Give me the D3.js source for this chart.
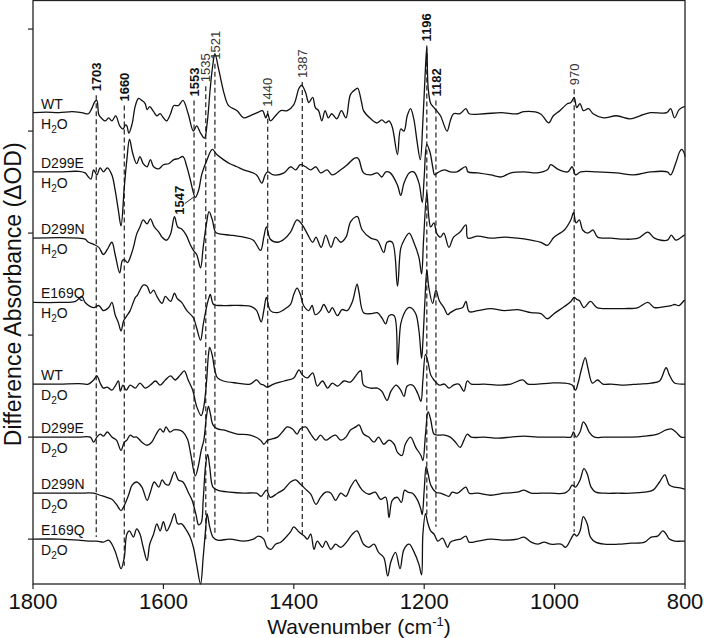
<!DOCTYPE html>
<html>
<head>
<meta charset="utf-8">
<script src="https://cdnjs.cloudflare.com/ajax/libs/d3/7.8.5/d3.min.js"></script>
<style>
body { margin: 0; background: #fff; }
text { font-family: "Liberation Sans", Arial, sans-serif; fill: #111; }
.frame { fill: none; stroke: #222; stroke-width: 1.3; }
.tick { stroke: #222; stroke-width: 1.2; }
.trace { fill: none; stroke: #111; stroke-width: 1.3; stroke-linejoin: round; }
.peakLine { stroke: #222; stroke-width: 1.2; stroke-dasharray: 5,3; }
</style>
</head>
<body>
<script>
//strain and solvent of each trace, top to bottom
var strains = ["WT", "D299E", "D299N", "E169Q", "WT", "D299E", "D299N", "E169Q"];
var solvents = ["H2O", "H2O", "H2O", "H2O", "D2O", "D2O", "D2O", "D2O"];
//vertical offset of each trace (same units as the spectra)
var offsets = [418, 360, 295, 232, 152, 100, 45, 0];

//spectra: [wavenumber, difference absorbance]
var wtH2O = [[1800,0],[1780,0.5],[1760,0],[1740,1],[1725,0],[1715,-1],[1710,4],[1705,11],[1702,12],[1699,-2],[1694,-6],[1689,-8],[1684,-5],[1679,-8],[1673,-3],[1667,-13],[1662,-16],[1658,-12],[1656,-13],[1653,-20],[1648,-11],[1643,7],[1638,14],[1633,12],[1628,9],[1625,3],[1621,6],[1615,1],[1610,-3],[1605,-1],[1600,-5],[1595,-8],[1589,-1],[1584,7],[1577,7],[1570,12],[1562,-1],[1554,-18],[1549,-13],[1543,-20],[1537,-25],[1533,-11],[1528,25],[1524,48],[1521,58],[1515,42],[1507,19],[1500,7],[1487,2],[1477,-5],[1467,-3],[1456,0],[1448,2],[1443,-5],[1440,-1],[1436,-8],[1428,-3],[1420,2],[1410,2],[1400,8],[1392,24],[1388,27],[1382,20],[1377,10],[1371,15],[1367,5],[1362,2],[1357,-8],[1352,2],[1347,-5],[1342,-1],[1334,-6],[1327,2],[1320,-5],[1313,18],[1305,23],[1302,24],[1296,10],[1293,2],[1282,-6],[1272,-10],[1265,-7],[1259,-10],[1254,-8],[1249,-14],[1241,-41],[1236,-16],[1231,-18],[1226,-3],[1221,4],[1216,-6],[1211,-28],[1206,-46],[1202,-8],[1198,45],[1196,64],[1194,25],[1190,9],[1185,5],[1181,2],[1175,-3],[1165,-18],[1160,-8],[1155,-1],[1145,-1],[1136,4],[1131,-1],[1108,-1],[1082,0],[1057,-1],[1047,1],[1022,-1],[1009,-10],[1002,-3],[992,2],[980,9],[975,10],[970,15],[966,5],[961,9],[956,2],[948,4],[941,-1],[925,-5],[905,-3],[884,-6],[869,-3],[853,0],[828,0],[822,4],[816,-5],[809,3],[801,6],[800,6]];
var d299eH2O = [[1800,0],[1760,0],[1730,0.5],[1720,-1],[1715,-5],[1711,-7],[1707,2],[1702,-3],[1697,4],[1692,0],[1686,4],[1679,-3],[1674,-18],[1669,-38],[1665,-53],[1660,-15],[1656,12],[1652,32],[1647,18],[1641,8],[1636,15],[1631,8],[1625,5],[1620,12],[1615,5],[1607,3],[1600,7],[1592,8],[1584,12],[1577,13],[1570,15],[1564,5],[1559,-7],[1551,-25],[1546,-18],[1541,-2],[1533,12],[1525,22],[1518,17],[1508,12],[1498,8],[1487,5],[1477,2],[1467,0],[1457,-3],[1449,-11],[1444,-3],[1440,0],[1431,-3],[1415,-1],[1405,5],[1397,2],[1390,7],[1382,5],[1374,2],[1366,5],[1359,-1],[1349,2],[1341,-3],[1328,2],[1318,7],[1308,13],[1303,14],[1300,12],[1293,-1],[1282,-3],[1272,-1],[1265,-5],[1259,0],[1252,-1],[1241,-13],[1236,-23],[1231,-11],[1223,-1],[1216,0],[1208,-11],[1203,-30],[1200,-5],[1196,27],[1191,19],[1187,5],[1184,-3],[1180,-1],[1169,2],[1160,0],[1150,0],[1136,5],[1133,0],[1118,-1],[1098,-3],[1082,-5],[1067,-1],[1047,0],[1027,-1],[1011,2],[1006,7],[996,3],[980,0],[973,5],[968,-3],[960,0],[935,0],[905,-1],[879,-3],[853,0],[827,0],[822,-3],[814,9],[808,20],[805,22],[801,18],[800,15]];
var d299nH2O = [[1800,0],[1760,0.5],[1730,0],[1720,-1],[1715,-4],[1707,-6],[1699,-9],[1692,-16],[1686,-11],[1679,-4],[1674,-16],[1667,-34],[1663,-22],[1660,-21],[1655,-24],[1651,-19],[1646,-9],[1641,4],[1636,11],[1631,18],[1625,14],[1620,19],[1614,11],[1607,6],[1602,1],[1595,-2],[1589,4],[1583,21],[1578,11],[1572,9],[1565,3],[1559,-6],[1554,-12],[1549,-16],[1543,-29],[1539,-9],[1534,14],[1530,26],[1525,18],[1520,6],[1512,4],[1498,3],[1477,1],[1462,-2],[1451,-12],[1446,1],[1442,11],[1436,-1],[1425,-4],[1415,-1],[1405,6],[1395,18],[1387,13],[1379,4],[1371,-4],[1366,1],[1358,-9],[1351,3],[1343,-9],[1336,1],[1328,-4],[1320,1],[1313,16],[1305,21],[1302,21],[1295,8],[1282,0],[1272,-2],[1262,-14],[1257,-4],[1249,-4],[1241,-47],[1236,-10],[1231,-2],[1223,5],[1216,-4],[1208,-19],[1204,-35],[1201,-2],[1196,45],[1193,21],[1190,11],[1185,15],[1181,5],[1175,1],[1170,5],[1162,-9],[1155,1],[1145,6],[1136,13],[1133,0],[1118,2],[1098,0],[1077,1],[1057,0],[1036,-2],[1021,-4],[1011,-7],[1001,1],[985,8],[975,18],[971,25],[967,15],[962,18],[957,8],[949,5],[941,8],[934,1],[913,0],[893,-1],[872,0],[857,6],[847,0],[827,-2],[821,3],[814,-2],[801,3],[800,3]];
var e169qH2O = [[1800,0],[1760,0],[1735,1],[1725,6],[1720,0],[1707,-5],[1699,-3],[1692,-8],[1684,-5],[1679,0],[1674,-12],[1669,-20],[1665,-28],[1661,-18],[1656,-13],[1651,-8],[1643,5],[1640,7],[1636,12],[1631,17],[1625,16],[1620,9],[1615,12],[1610,6],[1602,-1],[1597,6],[1589,1],[1583,9],[1579,4],[1572,0],[1564,-8],[1554,-15],[1549,-25],[1543,-37],[1539,-22],[1534,-5],[1530,5],[1528,8],[1523,-2],[1512,-3],[1498,-3],[1480,-3],[1465,-4],[1457,-8],[1450,-19],[1446,-8],[1442,5],[1436,-8],[1425,-10],[1415,-7],[1405,-2],[1400,8],[1395,14],[1390,8],[1385,-3],[1377,-8],[1372,-3],[1367,-12],[1359,-8],[1354,-2],[1346,-10],[1341,-5],[1333,-13],[1326,-7],[1318,-8],[1310,1],[1303,18],[1300,10],[1293,-10],[1282,-11],[1272,-10],[1265,-15],[1259,-21],[1254,-13],[1246,-13],[1241,-61],[1236,-21],[1231,-11],[1226,-6],[1221,-5],[1213,-11],[1208,-28],[1204,-55],[1202,-38],[1199,0],[1196,32],[1193,15],[1187,-1],[1182,12],[1177,2],[1169,-6],[1164,-12],[1160,-10],[1152,-7],[1141,-5],[1136,1],[1131,-9],[1118,-8],[1098,-6],[1077,-8],[1057,-7],[1036,-10],[1021,-11],[1011,-16],[1001,-11],[985,-4],[975,1],[970,5],[966,3],[962,2],[955,-5],[945,1],[935,-5],[913,-6],[893,-6],[872,-5],[857,0],[847,-5],[831,-4],[821,-3],[816,-2],[809,-3],[801,2],[800,2]];
var wtD2O = [[1800,0],[1760,0],[1730,0.5],[1715,0],[1707,4],[1702,8],[1697,1],[1692,-4],[1686,-3],[1679,-6],[1674,-2],[1669,3],[1666,-7],[1662,-1],[1657,-6],[1651,-1],[1643,-4],[1636,1],[1628,-4],[1620,-1],[1612,3],[1605,-1],[1597,4],[1589,8],[1582,4],[1574,9],[1568,13],[1562,4],[1555,-6],[1549,-22],[1542,-31],[1538,-22],[1534,1],[1531,28],[1529,36],[1525,28],[1521,13],[1517,6],[1508,3],[1487,1],[1467,0],[1457,4],[1451,0],[1446,-1],[1441,-3],[1431,0],[1415,3],[1400,6],[1392,14],[1387,9],[1379,6],[1371,11],[1364,-2],[1356,3],[1348,-4],[1341,1],[1333,-2],[1323,3],[1313,2],[1305,8],[1300,12],[1297,13],[1293,-1],[1282,-4],[1272,-4],[1265,-7],[1257,-16],[1251,-7],[1243,-1],[1236,-6],[1231,-12],[1226,-2],[1218,-1],[1210,-9],[1205,-17],[1202,4],[1198,29],[1194,21],[1190,9],[1185,4],[1177,-1],[1169,0],[1162,-4],[1155,-1],[1147,0],[1139,-7],[1134,3],[1128,0],[1108,0],[1082,-1],[1067,0],[1049,4],[1041,0],[1026,0],[1006,1],[985,1],[973,-1],[968,-6],[964,1],[959,14],[953,26],[949,16],[942,1],[934,4],[926,0],[913,0],[893,-1],[872,0],[852,1],[839,3],[829,16],[824,9],[816,1],[801,0],[800,0]];
var d299eD2O = [[1800,0],[1760,0],[1730,0],[1712,0],[1707,-5],[1702,0],[1697,3],[1692,1],[1686,5],[1679,0],[1672,-3],[1665,-13],[1660,-5],[1656,-3],[1651,2],[1646,0],[1641,0],[1633,-5],[1625,-8],[1618,-5],[1611,3],[1605,8],[1600,5],[1596,10],[1590,5],[1584,7],[1577,7],[1570,5],[1563,-2],[1558,-17],[1551,-38],[1546,-27],[1542,-13],[1538,-3],[1534,20],[1531,30],[1528,23],[1524,12],[1517,8],[1508,7],[1487,3],[1467,2],[1451,-3],[1446,-7],[1440,-3],[1425,0],[1415,7],[1410,10],[1402,8],[1395,3],[1390,8],[1382,10],[1374,3],[1366,-3],[1359,2],[1351,-3],[1343,0],[1336,2],[1328,-3],[1320,0],[1313,7],[1305,10],[1300,12],[1293,3],[1285,0],[1277,-5],[1270,0],[1262,-7],[1254,-3],[1246,-7],[1241,-15],[1234,-18],[1229,-7],[1221,0],[1213,-10],[1205,-18],[1202,-23],[1198,3],[1194,25],[1190,17],[1185,3],[1180,2],[1169,2],[1160,0],[1152,-5],[1145,-10],[1139,-3],[1134,3],[1128,0],[1108,0],[1087,-1],[1067,0],[1047,1],[1026,0],[1006,0],[985,0],[975,0],[971,5],[967,0],[961,5],[956,15],[952,12],[947,5],[939,0],[924,0],[903,0],[883,0],[862,1],[842,3],[829,7],[821,8],[814,5],[806,0],[800,0]];
var d299nD2O = [[1800,0],[1760,0],[1730,0],[1707,0],[1697,-2],[1687,-4],[1679,-6],[1672,-11],[1665,-17],[1660,-12],[1653,-1],[1648,8],[1641,11],[1633,6],[1625,-7],[1620,1],[1614,11],[1607,6],[1602,13],[1597,9],[1592,8],[1583,21],[1577,13],[1570,11],[1562,1],[1556,-7],[1550,-21],[1546,-31],[1542,-29],[1539,-7],[1535,29],[1532,38],[1529,26],[1524,6],[1517,3],[1498,1],[1477,0],[1457,0],[1450,-3],[1442,3],[1436,-4],[1425,0],[1415,4],[1405,11],[1397,13],[1390,9],[1382,4],[1374,-1],[1366,-11],[1359,-4],[1351,1],[1343,0],[1336,-7],[1328,0],[1320,-3],[1313,6],[1305,13],[1303,11],[1295,3],[1285,-1],[1275,1],[1267,-6],[1259,-4],[1254,-24],[1249,-7],[1241,-4],[1235,-9],[1230,3],[1225,1],[1218,0],[1210,-7],[1205,-16],[1203,-21],[1200,3],[1197,26],[1194,19],[1190,8],[1182,1],[1175,0],[1167,-2],[1162,-3],[1157,1],[1149,0],[1136,6],[1131,0],[1118,0],[1098,-2],[1077,0],[1057,1],[1047,3],[1036,0],[1021,0],[1006,0],[985,0],[978,3],[973,8],[968,6],[961,13],[955,24],[950,19],[944,6],[937,1],[924,0],[903,0],[883,0],[862,1],[849,3],[839,11],[831,18],[824,8],[816,6],[806,5],[800,4]];
var e169qD2O = [[1800,0],[1760,0],[1730,-1],[1715,-2],[1702,-2],[1692,-3],[1684,-1],[1679,-5],[1674,-12],[1669,-22],[1665,-29],[1660,-18],[1656,5],[1652,8],[1646,2],[1641,10],[1636,5],[1631,-8],[1625,-21],[1621,-5],[1615,5],[1610,15],[1605,8],[1600,17],[1595,8],[1589,15],[1583,25],[1578,15],[1572,15],[1564,8],[1559,2],[1554,-8],[1549,-25],[1543,-44],[1539,-18],[1535,12],[1533,25],[1529,12],[1524,2],[1517,-1],[1498,0],[1477,-2],[1462,0],[1454,3],[1446,0],[1441,-8],[1435,-10],[1428,-5],[1420,-3],[1412,2],[1405,7],[1400,12],[1392,7],[1384,3],[1379,0],[1374,5],[1369,-10],[1364,-2],[1356,-8],[1351,-2],[1343,-10],[1336,-5],[1328,-8],[1318,-2],[1310,5],[1303,8],[1293,-5],[1285,-8],[1277,-5],[1270,-13],[1262,-18],[1256,-36],[1251,-22],[1244,-13],[1237,-29],[1231,-10],[1223,-5],[1216,-12],[1208,-25],[1204,-35],[1202,5],[1198,25],[1195,17],[1190,8],[1185,5],[1179,-2],[1172,1],[1164,-8],[1160,-3],[1152,-1],[1144,0],[1136,3],[1131,-3],[1118,-2],[1098,0],[1077,-1],[1057,0],[1047,2],[1036,-3],[1026,-5],[1016,-3],[1006,-5],[990,-5],[983,-8],[975,0],[970,5],[966,3],[961,8],[956,22],[950,15],[945,2],[937,-3],[924,-5],[903,-5],[883,-4],[862,-3],[852,2],[842,3],[834,8],[829,5],[824,0],[816,-2],[806,-2],[800,-2]];
var spectra = [wtH2O, d299eH2O, d299nH2O, e169qH2O, wtD2O, d299eD2O, d299nD2O, e169qD2O];

//marked bands: wavenumber, label, bold or not, dashed line extent
var peakWn = [1703, 1660, 1553, 1535, 1521, 1440, 1387, 1196, 1182, 970];
var peakText = ["1703", "1660", "1553", "1535", "1521", "1440", "1387", "1196", "1182", "970"];
var peakBold = [true, true, true, false, false, false, false, true, true, false];
var peakTop = [435, 425, 430, 444, 466, 420, 448, 484, 430, 441];
var peakBottom = [2, -26, -1, -1, 6, 6, 4, 24, 12, 7];

//the extra 1547 band pointed to on the D299E / H2O trace
var sideLabel = {text: "1547", wn: 1575, value: 318, from: [1567, 329], to: [1552, 336]};

//axis ticks
var xTicks = [1800, 1600, 1400, 1200, 1000, 800];
var yTicks = [0, 100, 200, 300, 400, 500];

drawChart();

function drawChart(){

    var width = 704,
        height = 638;

    var svg = d3.select("body")
        .append("svg")
        .attr("width", width)
        .attr("height", height);

    //scales: wavenumber runs right to left
    var x = d3.scaleLinear()
        .domain([1800, 800])
        .range([33, 685]);

    var y = d3.scaleLinear()
        .domain([-44, 528])
        .range([584, 0.5]);

    //dashed band markers go under the traces
    svg.selectAll(".peakLine")
        .data(peakWn)
        .enter()
        .append("line")
        .attr("class", "peakLine")
        .attr("x1", function(d){ return x(d); })
        .attr("x2", function(d){ return x(d); })
        .attr("y1", function(d, i){ return y(peakTop[i]); })
        .attr("y2", function(d, i){ return y(peakBottom[i]); });

    svg.selectAll(".peakLabel")
        .data(peakWn)
        .enter()
        .append("text")
        .attr("class", "peakLabel")
        .attr("transform", function(d, i){
            return "translate(" + x(d) + "," + (y(peakTop[i]) - 4) + ") rotate(-90)";
        })
        .attr("dy", "0.36em")
        .style("font-size", "13px")
        .style("font-weight", function(d, i){ return peakBold[i] ? "bold" : "normal"; })
        .style("fill", function(d, i){ return peakBold[i] ? "#111" : "#333"; })
        .text(function(d, i){ return peakText[i]; });

    svg.append("text")
        .attr("transform", "translate(" + x(sideLabel.wn) + "," + y(sideLabel.value) + ") rotate(-90)")
        .attr("dy", "0.36em")
        .style("font-size", "13px")
        .style("font-weight", "bold")
        .text(sideLabel.text);

    svg.append("line")
        .attr("x1", x(sideLabel.from[0]))
        .attr("y1", y(sideLabel.from[1]))
        .attr("x2", x(sideLabel.to[0]))
        .attr("y2", y(sideLabel.to[1]))
        .attr("stroke", "#222")
        .attr("stroke-width", 1);

    //spectra
    var line = d3.line()
        .x(function(d){ return x(d[0]); })
        .y(function(d){ return y(d[1]); })
        .curve(d3.curveCatmullRom.alpha(0.5));

    svg.selectAll(".trace")
        .data(spectra)
        .enter()
        .append("path")
        .attr("class", "trace")
        .attr("d", function(d, i){
            return line(d.map(function(p){ return [p[0], p[1] + offsets[i]]; }));
        });

    //strain name above, solvent below each trace
    var labels = svg.selectAll(".traceLabel")
        .data(strains)
        .enter()
        .append("g")
        .attr("class", "traceLabel")
        .attr("transform", function(d, i){ return "translate(41," + y(offsets[i]) + ")"; });

    labels.append("text")
        .attr("y", -4)
        .style("font-size", "14px")
        .text(function(d){ return d; });

    var solv = labels.append("text")
        .attr("y", 16)
        .style("font-size", "14px");
    solv.append("tspan").text(function(d, i){ return solvents[i].charAt(0); });
    solv.append("tspan").attr("dy", 4).style("font-size", "10px").text("2");
    solv.append("tspan").attr("dy", -4).text("O");

    //frame
    svg.append("rect")
        .attr("class", "frame")
        .attr("x", x(1800))
        .attr("y", y(528))
        .attr("width", x(800) - x(1800))
        .attr("height", y(-44) - y(528));

    //x axis ticks and labels
    svg.selectAll(".xtick")
        .data(xTicks)
        .enter()
        .append("line")
        .attr("class", "tick")
        .attr("x1", function(d){ return x(d); })
        .attr("x2", function(d){ return x(d); })
        .attr("y1", y(-44))
        .attr("y2", y(-44) + 5);

    svg.selectAll(".xlabel")
        .data(xTicks)
        .enter()
        .append("text")
        .attr("x", function(d){ return x(d); })
        .attr("y", 609)
        .attr("text-anchor", "middle")
        .style("font-size", "22px")
        .text(function(d){ return d; });

    //y axis ticks (no labels)
    svg.selectAll(".ytick")
        .data(yTicks)
        .enter()
        .append("line")
        .attr("class", "tick")
        .attr("x1", x(1800) - 5)
        .attr("x2", x(1800))
        .attr("y1", function(d){ return y(d); })
        .attr("y2", function(d){ return y(d); });

    //axis titles
    var xTitle = svg.append("text")
        .attr("x", (x(1800) + x(800)) / 2)
        .attr("y", 634)
        .attr("text-anchor", "middle")
        .style("font-size", "21px");
    xTitle.append("tspan").text("Wavenumber (cm");
    xTitle.append("tspan").attr("dy", -8).style("font-size", "13px").text("-1");
    xTitle.append("tspan").attr("dy", 8).text(")");

    svg.append("text")
        .attr("transform", "translate(21," + y(240) + ") rotate(-90)")
        .attr("text-anchor", "middle")
        .style("font-size", "23px")
        .text("Difference Absorbance (\u0394OD)");
};
</script>
</body>
</html>
